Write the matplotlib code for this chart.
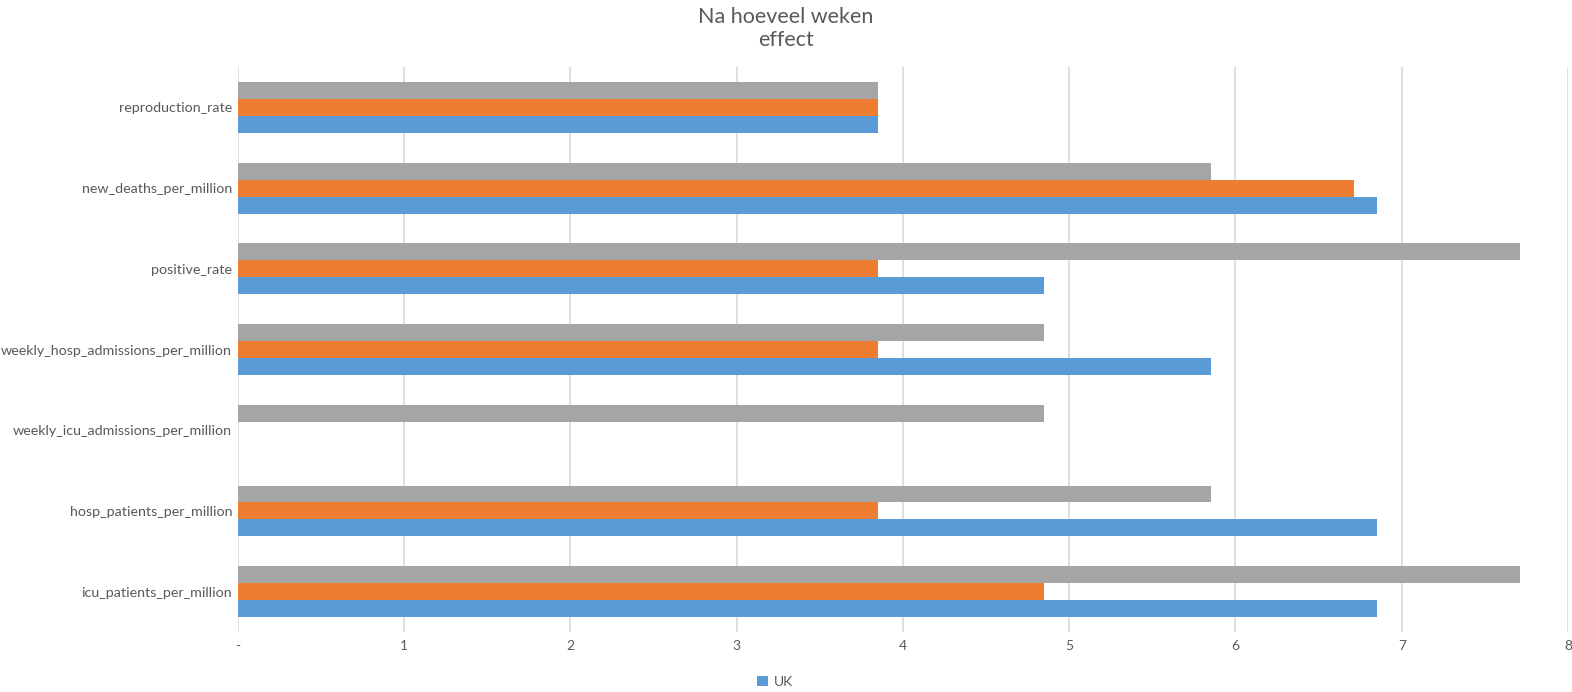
import matplotlib
matplotlib.use("Agg")
import matplotlib.pyplot as plt
import numpy as np

plt.rcParams['font.family'] = ['Lato', 'DejaVu Sans']

categories = ["reproduction_rate", "new_deaths_per_million", "positive_rate",
              "weekly_hosp_admissions_per_million", "weekly_icu_admissions_per_million",
              "hosp_patients_per_million", "icu_patients_per_million"]
# values in weeks (top to bottom)
uk_blue = [3.85, 6.85, 4.85, 5.85, np.nan, 6.85, 6.85]
series_orange = [3.85, 6.71, 3.85, 3.85, np.nan, 3.85, 4.85]
series_gray = [3.85, 5.85, 7.71, 4.85, 4.85, 5.85, 7.71]
xtick_labels = ["-", "1", "2", "3", "4", "5", "6", "7", "8"]

fig = plt.figure(figsize=(15.72, 6.92), dpi=100)
ax = fig.add_axes([0.1512, 0.0867, 0.8463, 0.8163])

y = np.arange(len(categories))
h = 0.21
ax.barh(y - h, series_gray, height=h, color="#a5a5a5", zorder=3)
ax.barh(y, series_orange, height=h, color="#ed7d31", zorder=3)
ax.barh(y + h, uk_blue, height=h, color="#5b9bd5", label="UK", zorder=3)

ax.set_ylim(len(categories) - 0.5, -0.5)
ax.set_xlim(0, 8)
ax.set_yticks(y)
ax.set_yticklabels(categories, fontsize=10.3, color="#595959")
ax.set_xticks(range(9))
ax.set_xticklabels(xtick_labels, fontsize=10, color="#595959")
ax.tick_params(axis="y", length=0, pad=4)
ax.tick_params(axis="x", length=0, pad=6)
ax.grid(axis="x", color="#d9d9d9", linewidth=1.2, zorder=0)
for s in ax.spines.values():
    s.set_visible(False)

fig.suptitle("Na hoeveel weken\neffect", fontsize=15.5, color="#595959", y=0.99, x=0.5)

fig.legend(loc="lower center", bbox_to_anchor=(0.493, -0.012), frameon=False,
           fontsize=10, handlelength=0.8, handleheight=0.8, handletextpad=0.4,
           labelcolor="#595959")

fig.savefig("out.png", dpi=100)
